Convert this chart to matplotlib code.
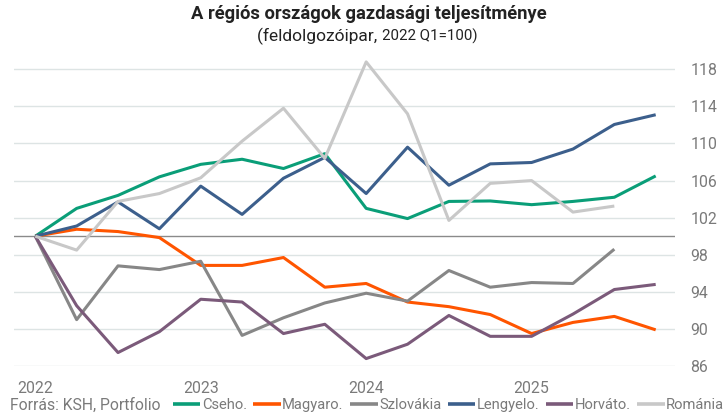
import matplotlib
matplotlib.use("Agg")
import matplotlib.pyplot as plt
import numpy as np

quarters = ["2022Q1","2022Q2","2022Q3","2022Q4","2023Q1","2023Q2","2023Q3","2023Q4",
            "2024Q1","2024Q2","2024Q3","2024Q4","2025Q1","2025Q2","2025Q3","2025Q4"]
cseho = [100, 103.0, 104.4, 106.4, 107.75, 108.3, 107.3, 108.9, 103.0, 101.9, 103.75, 103.8, 103.4, 103.75, 104.2, 106.5]
magyaro = [100, 100.75, 100.5, 99.85, 96.85, 96.85, 97.7, 94.5, 94.9, 92.9, 92.4, 91.55, 89.5, 90.7, 91.35, 89.9]
szlovakia = [100, 91.0, 96.8, 96.4, 97.3, 89.3, 91.2, 92.8, 93.85, 93.0, 96.3, 94.5, 95.0, 94.9, 98.6, None]
lengyelo = [100, 101.1, 103.7, 100.8, 105.4, 102.35, 106.25, 108.5, 104.6, 109.6, 105.5, 107.8, 107.95, 109.4, 112.05, 113.1]
horvato = [100, 92.5, 87.45, 89.7, 93.2, 92.9, 89.5, 90.5, 86.8, 88.35, 91.45, 89.2, 89.2, 91.6, 94.25, 94.8]
romania = [100, 98.5, 103.75, 104.6, 106.3, 110.25, 113.8, 108.4, 118.8, 113.2, 101.7, 105.7, 106.0, 102.6, 103.25, None]

names = ["Cseho.", "Magyaro.", "Szlovákia", "Lengyelo.", "Horváto.", "Románia"]
year_labels = ["2022", "2023", "2024", "2025"]
yticks = [86, 90, 94, 98, 102, 106, 110, 114, 118]

colors = ["#0a9e78", "#ff5500", "#878787", "#3c5f8c", "#7b5a7a", "#c8c8c8"]

plt.rcParams['font.family'] = ['Roboto', 'DejaVu Sans']

fig = plt.figure(figsize=(7.23, 4.16), dpi=100)
ax = fig.add_axes([14/723, (416-366)/416, 661/723, (366-55.4)/416])

x = np.arange(len(quarters))
series = [cseho, magyaro, szlovakia, lengyelo, horvato, romania]
for s, c, n in zip(series, colors, names):
    y = np.array([np.nan if v is None else v for v in s], dtype=float)
    ax.plot(x, y, color=c, lw=2.2, label=n, solid_capstyle='butt', zorder=3)

for t in yticks:
    ax.axhline(t, color="#dde4e4", lw=1.0, zorder=1)
ax.axhline(100, color="#8a8a8a", lw=1.0, zorder=2)

ax.set_xlim(-0.515, 15.467)
ax.set_ylim(86, 119.5)
ax.set_yticks(yticks)
ax.set_yticklabels([str(t) for t in yticks])
ax.yaxis.tick_right()
ax.tick_params(axis='y', length=0, pad=11, labelsize=11.4, labelcolor="#7a7a7a")
ax.set_xticks([0, 4, 8, 12])
ax.set_xticklabels(year_labels)
ax.tick_params(axis='x', length=0, pad=11, labelsize=11.4, labelcolor="#7a7a7a")
for sp in ax.spines.values():
    sp.set_visible(False)

fig.text(369/723, 1-14/416, "A régiós országok gazdasági teljesítménye", ha='center', va='center',
         fontsize=13.2, fontweight='bold', color="#222222")

# subtitle: words larger, numbers smaller (as in the reference)
r = fig.canvas.get_renderer()
t1 = fig.text(0, 1-36/416, "(feldolgozóipar, ", ha='left', va='center', fontsize=12.5, color="#222222")
t2 = fig.text(0, 1-36.5/416, "2022 Q1=100)", ha='left', va='center', fontsize=10.8, color="#222222")
w1 = t1.get_window_extent(r).width
w2 = t2.get_window_extent(r).width
x0 = 367 - (w1 + w2) / 2
t1.set_x(x0 / 723)
t2.set_x((x0 + w1) / 723)

fig.text(10/723, 1-405/416, "Forrás: KSH, Portfolio", ha='left', va='center',
         fontsize=11.3, color="#7a7a7a")

leg = fig.legend(loc='center left', bbox_to_anchor=(173/723, 1-405/416), ncol=6, frameon=False,
                 fontsize=10.6, handlelength=1.85, handletextpad=0.1, columnspacing=0.45,
                 borderaxespad=0, borderpad=0, labelcolor="#7a7a7a")
for h in leg.get_lines():
    h.set_linewidth(2.6)

fig.savefig("out.png", dpi=100)
